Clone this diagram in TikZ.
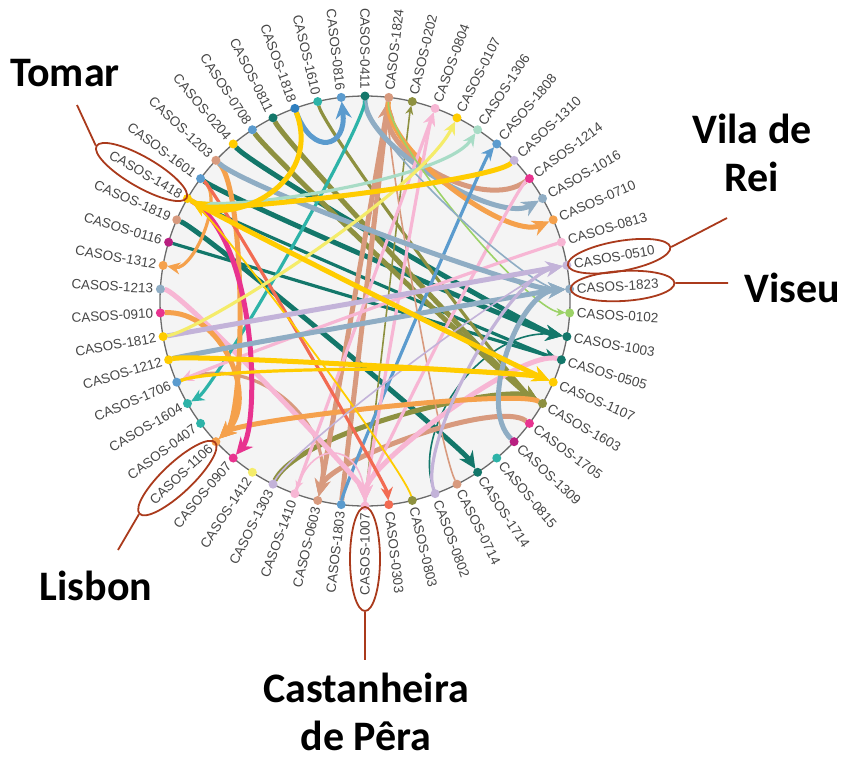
\documentclass[tikz,border=0pt]{standalone}
\usepackage{fontspec}
\setmainfont{Liberation Sans}
\newfontfamily\annfont{Carlito}
\usetikzlibrary{arrows.meta,calc,shapes.geometric}
\definecolor{dteal}{HTML}{13776A}
\definecolor{salmon}{HTML}{D89A7E}
\definecolor{olive}{HTML}{8E9140}
\definecolor{pinkc}{HTML}{F7B6D4}
\definecolor{gold}{HTML}{FFCC00}
\definecolor{mint}{HTML}{A8DCC6}
\definecolor{sblue}{HTML}{5B9BCE}
\definecolor{lav}{HTML}{C3B3D9}
\definecolor{magc}{HTML}{E8338F}
\definecolor{gblue}{HTML}{8FADC4}
\definecolor{orangec}{HTML}{F5A14C}
\definecolor{lgreen}{HTML}{9CD267}
\definecolor{coral}{HTML}{F26B52}
\definecolor{turq}{HTML}{2DB3A8}
\definecolor{purp}{HTML}{B81F80}
\definecolor{lyellow}{HTML}{F4EC6A}
\definecolor{dblue}{HTML}{2E7EBF}
\definecolor{annotc}{HTML}{AA3A1C}
\definecolor{lblc}{HTML}{464646}
\definecolor{bgc}{HTML}{F4F4F4}
\definecolor{rimc}{HTML}{6B6B6B}
\newcommand\ch[5]{\draw[#1] (d#2) .. controls ($(O)!#4!(d#2)$) and ($(O)!#5!(d#3)$) .. (d#3);}
\begin{document}
\begin{tikzpicture}[x=1pt,y=1pt,
  lblst/.style={font=\fontsize{13.5}{16}\selectfont, text=lblc, inner sep=0pt},
  dotpos/.style={circle, inner sep=0pt, minimum size=8pt},
  tk/.style={line width=5pt, -{Stealth[length=17pt,width=16pt]}},
  md/.style={line width=3.2pt, -{Stealth[length=13pt,width=12pt]}},
  tn/.style={line width=1.6pt, -{Stealth[length=9pt,width=8pt]}},
  plainln/.style={line width=1.8pt},
  annf/.style={font=\annfont\bfseries\fontsize{42}{48}\selectfont, text=black, align=center, inner sep=0pt},
  annl/.style={draw=annotc, line width=1.8pt},
  annell/.style={ellipse, draw=annotc, line width=1.8pt, minimum width=104pt, minimum height=30pt, inner sep=0pt}
]
\useasboundingbox (0,0) rectangle (851,-764);
\coordinate (O) at (365,-301);
\draw[fill=bgc, draw=rimc, line width=1.3pt] (O) circle (205pt);
\foreach \i in {0,...,53} {
  \pgfmathsetmacro\a{90-\i*20/3}
  \node[dotpos] (d\i) at ($(O)+(\a:205pt)$) {};
}
% chords (colour of the target)
\ch{tk,dteal}{48}{15}{0.85}{0.85}
\ch{tk,dteal}{46}{15}{0.85}{0.85}
\ch{tk,dteal}{44}{22}{0.85}{0.85}
\ch{md,dteal}{43}{16}{0.85}{0.85}
\ch{md,dteal}{45}{16}{0.85}{0.85}
\ch{tn,dteal}{24}{15}{0.65}{0.6}
\ch{tk,olive}{49}{18}{0.85}{0.85}
\ch{tk,olive}{50}{18}{0.85}{0.85}
\ch{md,olive}{52}{18}{0.85}{0.85}
\ch{tk,olive}{31}{18}{0.7}{0.8}
\ch{tn,olive}{27}{2}{0.95}{0.95}
\ch{tk,salmon}{8}{1}{0.72}{0.72}
\ch{tk,salmon}{28}{1}{0.9}{0.9}
\ch{tn,salmon}{23}{1}{0.8}{0.8}
\ch{tk,salmon}{1}{29}{0.9}{0.9}
\ch{tk,salmon}{19}{29}{0.8}{0.8}
\ch{md,salmon}{37}{29}{0.6}{0.6}
\ch{tk,gblue}{0}{9}{0.75}{0.75}
\ch{tk,orangec}{1}{10}{0.75}{0.75}
\ch{md,sblue}{28}{6}{0.9}{0.9}
\ch{md,pinkc}{27}{3}{0.9}{0.9}
\ch{md,pinkc}{30}{3}{0.9}{0.9}
\ch{tk,pinkc}{41}{27}{0.9}{0.9}
\ch{tk,pinkc}{16}{27}{0.8}{0.8}
\ch{md,pinkc}{8}{27}{0.9}{0.9}
\ch{tn,lgreen}{1}{14}{0.8}{0.8}
\ch{md,turq}{0}{36}{0.85}{0.85}
\ch{md,pinkc}{11}{37}{0.7}{0.7}
\ch{tk,orangec}{47}{34}{0.8}{0.8}
\ch{tk,orangec}{40}{34}{0.7}{0.7}
\ch{tk,orangec}{18}{34}{0.85}{0.85}
\ch{md,orangec}{46}{42}{0.85}{0.85}
\ch{tn,pinkc}{27}{30}{0.7}{0.7}
\ch{tk,magc}{45}{33}{0.6}{0.8}
\ch{md,coral}{46}{26}{0.9}{0.9}
\ch{plainln,gold}{45}{25}{0.85}{0.85}
\ch{tk,gblue}{47}{13}{0.8}{0.8}
\ch{tn,gblue}{0}{13}{0.8}{0.8}
\ch{tk,gblue}{38}{13}{0.9}{0.9}
\ch{tk,gblue}{20}{13}{0.75}{0.75}
\ch{tk,lav}{39}{12}{0.9}{0.9}
\ch{md,lav}{24}{12}{0.75}{0.7}
\ch{tn,lav}{31}{12}{0.8}{0.8}
\ch{md,mint}{45}{5}{0.85}{0.7}
\ch{md,lyellow}{39}{4}{0.8}{0.6}
\ch{tk,sblue}{51}{53}{0.75}{0.75}
\ch{tk,gold}{51}{45}{0.6}{0.75}
\ch{tk,gold}{7}{45}{0.85}{0.85}
\ch{tk,gold}{45}{17}{0.75}{0.75}
\ch{tk,gold}{38}{17}{0.9}{0.9}
\ch{md,gold}{37}{17}{0.8}{0.8}
% dots and labels
\foreach \i/\t/\c in {0/0411/dteal,1/1824/salmon,2/0202/olive,3/0804/pinkc,4/0107/gold,5/1306/mint,6/1808/sblue,7/1310/lav,8/1214/magc,9/1016/gblue,10/0710/orangec,11/0813/pinkc,12/0510/lav,13/1823/gblue,14/0102/lgreen,15/1003/dteal,16/0505/dteal,17/1107/gold,18/1603/olive,19/1705/magc,20/1309/purp,21/0815/turq,22/1714/dteal,23/0714/salmon,24/0802/lav,25/0803/olive,26/0303/coral,27/1007/pinkc,28/1803/sblue,29/0603/salmon,30/1410/pinkc,31/1303/lav,32/1412/lyellow,33/0907/magc,34/1106/orangec,35/0407/turq,36/1604/turq,37/1706/sblue,38/1212/gold,39/1812/gold,40/0910/magc,41/1213/gblue,42/1312/orangec,43/0116/purp,44/1819/salmon,45/1418/gold,46/1601/sblue,47/1203/salmon,48/0204/gold,49/0708/sblue,50/0811/dteal,51/1818/dblue,52/1610/turq,53/0816/sblue} {
  \pgfmathsetmacro\a{90-\i*20/3}
  \fill[\c] (d\i) circle (4.5pt);
  \pgfmathtruncatemacro\side{(cos(\a)>0.05)?1:0}
  \ifnum\side=1
    \node[lblst, anchor=west, rotate=\a] (l\i) at ($(O)+(\a:212pt)$) {CASOS-\t};
  \else
    \node[lblst, anchor=east, rotate=\a+180] (l\i) at ($(O)+(\a:212pt)$) {CASOS-\t};
  \fi
}
% annotations
\foreach \i in {45,12,13,34,27} {
  \pgfmathsetmacro\a{90-\i*20/3}
  \node[annell, rotate=\a] (E\i) at ($(O)+(\a:258pt)$) {};
}
\node[annf] (tomar) at (65,-73) {Tomar};
\node[annf] (vila) at (752,-153) {Vila de\\Rei};
\node[annf] (viseu) at (792,-288) {Viseu};
\node[annf] (lisbon) at (96,-586) {Lisbon};
\node[annf] (cast) at (366,-712) {Castanheira\\de Pêra};
\coordinate (tA) at (77,-105);
\coordinate (vA) at (727,-218);
\coordinate (sA) at (728,-283);
\coordinate (lA) at (118,-550);
\coordinate (cA) at (365,-660);
\draw[annl] (E45.east) -- (tA);
\draw[annl] (E12.east) -- (vA);
\draw[annl] (E13.east) -- (sA);
\draw[annl] (E34.east) -- (lA);
\draw[annl] (E27.east) -- (cA);
\end{tikzpicture}
\end{document}
